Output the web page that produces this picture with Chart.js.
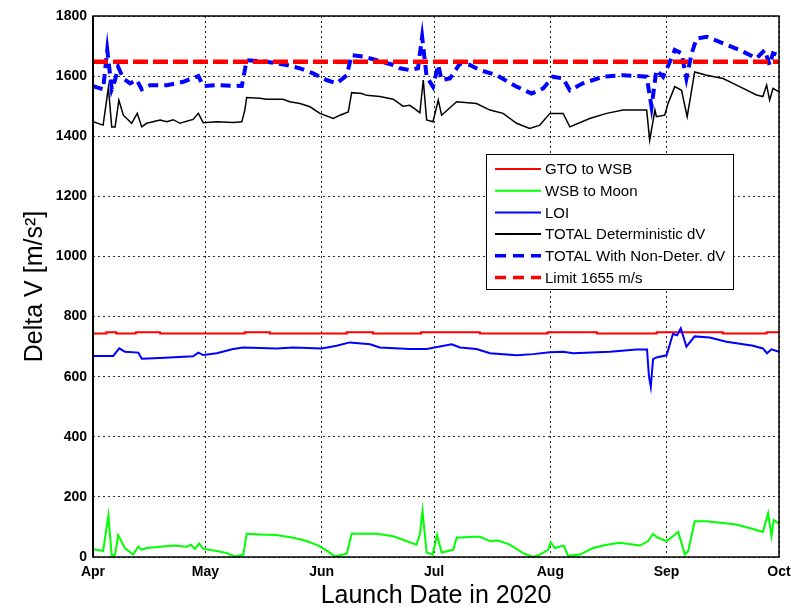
<!DOCTYPE html>
<html><head><meta charset="utf-8">
<script src="https://cdn.jsdelivr.net/npm/chart.js@4/dist/chart.umd.min.js"></script>
<style>html,body{margin:0;padding:0;background:#fff}</style>
</head><body>
<canvas id="c" width="791" height="611"></canvas>
<script>
// ---- Data (x = days since Apr 1, 2020) ----
const monthLabels = ['Apr','May','Jun','Jul','Aug','Sep','Oct'];
const monthStartDays = [0,30,61,91,122,153,183];
const yTickValues = [0,200,400,600,800,1000,1200,1400,1600,1800];

const gtoDays = [0,3.6,6.2,11.4,17.9,40.5,47.2,67.7,74.7,87.5,103.2,121.3,134.4,150.4,168.0,179.7,183];
const gtoValues = [744,748,744,748,744,748,744,748,744,748,744,748,744,748,744,748,748];

const wsbDays = [0,2.7,4.1,5.0,5.9,6.7,8.5,10.7,12.1,13.0,14.3,17.9,21.4,25.0,26.1,27.2,28.3,29.4,33.0,35.7,37.9,40.1,41.0,44.5,49.0,53.4,57.0,60.1,62.3,64.5,67.7,69.0,75.7,80.1,86.3,87.2,87.9,89.0,90.6,91.8,93.0,96.1,97.0,101.4,103.2,105.9,108.1,111.2,114.7,117.4,119.2,121.4,122.1,123.2,125.6,126.7,129.9,133.4,137.0,140.5,145.9,148.1,149.4,150.7,153.0,154.7,156.1,157.9,158.8,160.5,163.7,171.6,176.1,178.7,180.1,181.0,181.6,183];
const wsbValues = [27,20,139,4,8,73,30,8,35,24,30,34,38,34,41,27,45,27,20,13,2,8,77,75,73,64,53,38,22,2,11,77,77,69,41,75,153,15,8,73,15,24,64,67,67,53,55,41,13,0,8,24,49,30,38,4,8,30,41,47,38,53,77,64,53,69,83,8,20,119,119,108,93,83,146,69,123,111];

const loiDays = [0,5.4,7.0,8.5,12.1,13.0,17.9,26.7,28.1,29.4,33.0,37.4,40.1,49.0,53.4,61.0,65.0,68.5,73.9,76.5,84.5,89.0,95.7,97.9,102.3,105.9,113.0,117.4,121.9,125.4,128.1,137.9,145.0,147.8,148.3,148.8,149.4,150.3,153.0,154.7,155.8,156.8,158.3,160.5,164.5,169.0,176.1,178.7,179.8,181.0,183];
const loiValues = [669,669,694,683,680,660,662,668,680,672,678,692,697,694,697,694,703,714,708,697,692,692,708,697,692,678,671,675,681,683,678,683,690,690,602,566,658,664,671,742,738,761,700,734,730,716,703,694,678,691,683];

const totalDays = [0,2.7,4.1,5.0,5.9,6.9,8.1,10.3,11.8,13.0,14.3,17.9,19.7,21.4,23.2,26.7,28.1,29.4,33.0,37.4,39.7,40.5,41.0,44.5,46.3,50.7,52.5,55.2,57.9,60.5,64.1,65.9,68.1,69.0,71.7,73.0,76.5,80.1,82.7,84.5,86.3,87.2,88.1,89.0,90.7,92.1,93.0,97.0,102.3,105.9,109.4,113.0,116.5,119.2,121.9,125.4,127.2,132.5,137.0,141.4,147.7,148.5,149.9,150.3,152.5,153.4,155.2,157.0,158.5,159.7,160.5,163.7,168.1,172.5,177.0,178.7,179.7,180.5,181.4,183];
const totalValues = [1448,1437,1562,1431,1431,1520,1470,1443,1476,1431,1443,1454,1448,1455,1443,1456,1476,1445,1448,1446,1448,1487,1529,1526,1523,1523,1515,1509,1498,1476,1459,1470,1481,1545,1542,1536,1532,1523,1500,1503,1487,1478,1587,1454,1448,1520,1470,1515,1509,1487,1476,1443,1426,1437,1476,1476,1431,1459,1476,1487,1487,1387,1487,1465,1470,1509,1565,1553,1465,1553,1614,1603,1592,1565,1537,1532,1570,1520,1559,1548];

const nonDetDays = [0,2.7,3.8,5.0,5.9,6.7,8.1,9.9,11.7,13.0,15.2,19.7,24.1,28.1,29.4,33.0,39.7,41.0,46.3,51.7,55.2,58.7,62.3,65.0,67.7,69.0,72.1,75.7,80.1,81.9,84.5,86.7,87.8,89.0,90.7,92.1,93.0,95.2,97.9,100.5,103.2,107.7,113.0,117.0,120.1,122.7,125.4,127.2,130.7,136.1,141.4,147.7,149.0,150.3,152.1,153.9,155.2,157.0,158.3,159.7,161.0,163.7,168.1,172.5,177.0,179.2,180.5,181.4,183];
const nonDetValues = [1567,1556,1687,1556,1587,1631,1592,1576,1587,1556,1570,1570,1581,1600,1567,1570,1567,1653,1648,1637,1626,1609,1587,1576,1603,1670,1665,1653,1637,1626,1620,1626,1731,1598,1565,1637,1587,1592,1642,1637,1620,1603,1565,1542,1559,1598,1592,1553,1576,1598,1603,1598,1498,1620,1598,1648,1687,1676,1592,1676,1725,1731,1709,1687,1659,1687,1637,1676,1670];

const limitDays = [0,183];
const limitValues = [1648,1648];

// ---- Chart ----
const FONT = "'Liberation Sans', Arial, Helvetica, sans-serif";
Chart.defaults.font.family = FONT;
Chart.defaults.color = '#000';

const toPoints = (xs, ys) => xs.map((x, i) => ({x: x, y: ys[i]}));

const framePlugin = {
  id: 'frame',
  afterDatasetsDraw(chart) {
    const a = chart.chartArea, ctx = chart.ctx;
    ctx.save();
    ctx.strokeStyle = '#000';
    ctx.lineWidth = 1.5;
    ctx.strokeRect(a.left, a.top, a.right - a.left, a.bottom - a.top);
    ctx.lineWidth = 2;
    ctx.beginPath(); ctx.moveTo(a.left, a.top); ctx.lineTo(a.left, a.bottom); ctx.stroke();
    ctx.restore();
  }
};

const legendPlugin = {
  id: 'legendBox',
  afterDraw(chart) {
    const ctx = chart.ctx;
    const x0 = 486, y0 = 154, w = 247, h = 135;
    ctx.save();
    ctx.fillStyle = '#fff';
    ctx.fillRect(x0, y0, w, h);
    ctx.strokeStyle = '#000';
    ctx.lineWidth = 1;
    ctx.strokeRect(x0 + 0.5, y0 + 0.5, w, h);
    chart.data.datasets.forEach((ds, i) => {
      const y = 169 + i * 21.7;
      ctx.beginPath();
      const dashed = !!ds.borderDash;
      ctx.setLineDash(dashed ? [11, 7] : []);
      ctx.lineWidth = dashed ? 3.5 : 2;
      ctx.strokeStyle = ds.borderColor;
      ctx.moveTo(495, y); ctx.lineTo(541, y); ctx.stroke();
      ctx.setLineDash([]);
      ctx.fillStyle = '#000';
      ctx.font = "15px " + FONT;
      ctx.textBaseline = 'middle';
      ctx.textAlign = 'left';
      ctx.fillText(ds.label, 545, y + 1);
    });
    ctx.restore();
  }
};

const common = {pointRadius: 0, tension: 0, fill: false};

new Chart(document.getElementById('c'), {
  type: 'line',
  data: {
    datasets: [
      Object.assign({label: 'GTO to WSB', data: toPoints(gtoDays, gtoValues), borderColor: '#ff0000', borderWidth: 2, stepped: 'before', order: 5}, common),
      Object.assign({label: 'WSB to Moon', data: toPoints(wsbDays, wsbValues), borderColor: '#00ff00', borderWidth: 2, order: 4}, common),
      Object.assign({label: 'LOI', data: toPoints(loiDays, loiValues), borderColor: '#0000ff', borderWidth: 2, order: 3}, common),
      Object.assign({label: 'TOTAL Deterministic dV', data: toPoints(totalDays, totalValues), borderColor: '#000000', borderWidth: 1.5, order: 2}, common),
      Object.assign({label: 'TOTAL With Non-Deter. dV', data: toPoints(nonDetDays, nonDetValues), borderColor: '#0000ff', borderWidth: 4, borderDash: [10, 6], order: 1}, common),
      Object.assign({label: 'Limit 1655 m/s', data: toPoints(limitDays, limitValues), borderColor: '#ff0000', borderWidth: 4.5, borderDash: [15, 5], order: 0}, common)
    ]
  },
  options: {
    responsive: false,
    animation: false,
    devicePixelRatio: 1,
    layout: {padding: {top: 16, right: 12, bottom: 0, left: 0}},
    plugins: {legend: {display: false}, tooltip: {enabled: false}},
    scales: {
      x: {
        type: 'linear', min: 0, max: 183,
        afterBuildTicks: s => { s.ticks = monthStartDays.map(v => ({value: v})); },
        afterFit: s => { s.height = 54; s.paddingLeft = 0; s.paddingRight = 0; },
        ticks: {
          callback: v => monthLabels[monthStartDays.indexOf(v)],
          font: {size: 14, weight: 'bold'}, color: '#000', padding: 7,
          maxRotation: 0, autoSkip: false
        },
        grid: {color: '#222', lineWidth: 1, drawTicks: false},
        border: {display: false, dash: [2, 3]},
        title: {display: true, text: 'Launch Date in 2020', font: {size: 25}, color: '#000', padding: {top: 0, bottom: 0}}
      },
      y: {
        min: 0, max: 1800,
        afterBuildTicks: s => { s.ticks = yTickValues.map(v => ({value: v})); },
        afterFit: s => { s.width = 93; s.paddingTop = 0; s.paddingBottom = 0; },
        ticks: {callback: v => String(v), font: {size: 14, weight: 'bold'}, color: '#000', padding: 6},
        grid: {color: '#333', lineWidth: 1, drawTicks: false},
        border: {display: false, dash: [2, 3]},
        title: {display: true, text: 'Delta V [m/s\u00B2]', font: {size: 25}, color: '#000', padding: {top: 20, bottom: 0}}
      }
    }
  },
  plugins: [framePlugin, legendPlugin]
});
</script>
</body></html>
